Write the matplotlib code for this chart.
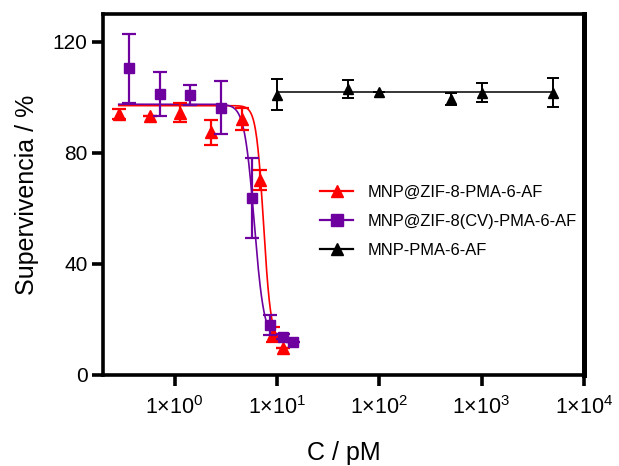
import numpy as np
import matplotlib
matplotlib.use("Agg")
import matplotlib.pyplot as plt
from matplotlib.ticker import FixedLocator, NullLocator

plt.rcParams['font.family'] = ['Liberation Sans', 'DejaVu Sans']
plt.rcParams['mathtext.fontset'] = 'custom'
plt.rcParams['mathtext.rm'] = 'Liberation Sans'
plt.rcParams['mathtext.it'] = 'Liberation Sans'

# MNP@ZIF-8-PMA-6-AF
red_x = [0.285, 0.57, 1.14, 2.28, 4.56, 6.84, 9.12, 11.4]
red_y = [94.1, 93.4, 94.4, 87.4, 92.2, 70.3, 14.6, 9.6]
red_err = [1.8, 0.0, 3.4, 4.5, 4.0, 3.6, 2.7, 0.0]

# MNP@ZIF-8(CV)-PMA-6-AF
pur_x = [0.357, 0.714, 1.43, 2.86, 5.71, 8.57, 11.43, 14.29]
pur_y = [110.4, 101.2, 100.7, 96.3, 63.7, 18.0, 13.8, 12.0]
pur_err = [12.3, 7.8, 3.6, 9.5, 14.4, 3.5, 1.0, 0.0]

# MNP-PMA-6-AF
blk_x = [10, 50, 100, 500, 1000, 5000]
blk_y = [101.0, 103.0, 102.0, 99.4, 101.6, 101.6]
blk_err = [5.5, 3.2, 0.0, 2.2, 3.4, 5.2]

# Four-parameter logistic fits: (top, bottom, IC50, hill slope)
red_fit = (97.0, 12.0, 7.4, 12.0)
pur_fit = (97.5, 12.5, 6.0, 9.0)
blk_level = 101.8

labels = ["MNP@ZIF-8-PMA-6-AF", "MNP@ZIF-8(CV)-PMA-6-AF", "MNP-PMA-6-AF"]
xticks = [1, 10, 100, 1000, 10000]
xticklabels = [r"1×10$^{0}$", r"1×10$^{1}$", r"1×10$^{2}$", r"1×10$^{3}$", r"1×10$^{4}$"]
yticks = [0, 40, 80, 120]

RED = "#FF0000"
PURPLE = "#6E00A0"
BLACK = "#000000"


def logistic(x, top, bottom, ic50, hill):
    return bottom + (top - bottom) / (1.0 + (x / ic50) ** hill)


fig = plt.figure(figsize=(6.19, 4.66), dpi=100)
ax = fig.add_axes([0.1664, 0.1953, 0.777, 0.7747])
ax.set_xscale('log')

# fitted curves
xr = np.logspace(np.log10(red_x[0]), np.log10(red_x[-1]), 400)
ax.plot(xr, logistic(xr, *red_fit), color=RED, lw=1.2, zorder=2)
xp = np.logspace(np.log10(red_x[0]), np.log10(pur_x[-1]), 400)
ax.plot(xp, logistic(xp, *pur_fit), color=PURPLE, lw=1.2, zorder=2)
ax.plot([blk_x[0], blk_x[-1]], [blk_level, blk_level], color=BLACK, lw=1.1, zorder=2)

# data points with error bars
ax.errorbar(red_x, red_y, yerr=red_err, fmt='^', color=RED, ms=8.5,
            elinewidth=1.6, capsize=5, capthick=1.6, zorder=3)
ax.errorbar(pur_x, pur_y, yerr=pur_err, fmt='s', color=PURPLE, ms=7,
            elinewidth=1.6, capsize=5, capthick=1.6, zorder=4)
ax.errorbar(blk_x, blk_y, yerr=blk_err, fmt='^', color=BLACK, ms=6.5,
            elinewidth=1.4, capsize=4, capthick=1.4, zorder=3)

# legend handles
h_red, = ax.plot([], [], color=RED, marker='^', ms=9, lw=1.6)
h_pur, = ax.plot([], [], color=PURPLE, marker='s', ms=8, lw=1.6)
h_blk, = ax.plot([], [], color=BLACK, marker='^', ms=8, lw=1.6)
fig.legend([h_red, h_pur, h_blk], labels, loc='upper left',
           bbox_to_anchor=(320 / 619, 1 - 185 / 466), frameon=False,
           fontsize=11.9, handlelength=2.0, handletextpad=0.9,
           labelspacing=0.84, borderpad=0, borderaxespad=0)

ax.set_xlim(0.2, 10000)
ax.set_ylim(0, 130)
ax.xaxis.set_major_locator(FixedLocator(xticks))
ax.xaxis.set_minor_locator(NullLocator())
ax.set_xticklabels(xticklabels)
ax.set_yticks(yticks)

for side in ['left', 'bottom', 'top']:
    ax.spines[side].set_linewidth(2.6)
ax.spines['right'].set_linewidth(3.6)
ax.tick_params(axis='both', which='major', width=2.6, length=8,
               direction='out', colors='black')
ax.tick_params(axis='x', pad=7, labelsize=15.5)
ax.tick_params(axis='y', pad=3, labelsize=15)

ax.set_xlabel("C / pM", fontsize=18, labelpad=16)
ax.set_ylabel("Supervivencia / %", fontsize=18, labelpad=10)

fig.savefig("out.png", dpi=100)
